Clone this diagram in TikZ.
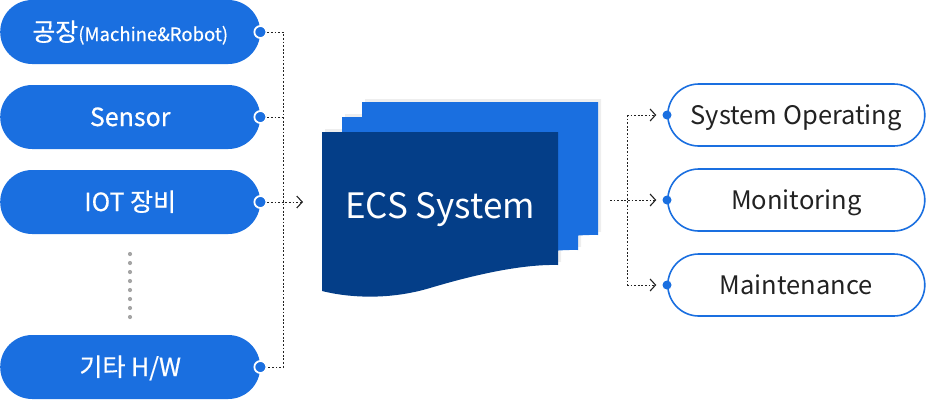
\documentclass[tikz,border=0pt]{standalone}
\usepackage{fontspec}
\setmainfont{Noto Sans CJK KR}
\newfontfamily\krmed{Noto Sans CJK KR}[FakeBold=0.5]
\usetikzlibrary{arrows.meta}
\definecolor{pblue}{HTML}{1A6FE0}
\definecolor{dblue}{HTML}{043E88}
\definecolor{txt}{HTML}{222222}
\definecolor{shadowg}{HTML}{EEEEEE}
\definecolor{dotg}{HTML}{A5A5A5}
\begin{document}
\begin{tikzpicture}[x=1pt,y=-1pt,
  lpill/.style={rectangle, rounded corners=32pt, fill=pblue, minimum width=260pt,
    minimum height=64pt, inner sep=0pt, text=white, anchor=west,
    font=\krmed\fontsize{25}{27}\selectfont, text height=18pt, text depth=0pt},
  rpill/.style={rectangle, rounded corners=31pt, draw=pblue, line width=1.6pt, fill=white,
    minimum width=257pt, minimum height=62pt, inner sep=0pt, text=txt, anchor=west,
    font=\fontsize{25.5}{28}\selectfont, text height=18.6pt, text depth=0pt},
  ldot/.style={circle, fill=pblue, draw=white, line width=1.8pt, minimum size=12pt, inner sep=0pt},
  rdot/.style={circle, fill=pblue, minimum size=9pt, inner sep=0pt},
  conn/.style={draw=txt, line width=0.9pt, dash pattern=on 1.8pt off 1.8pt},
  arr/.style={conn, -{Straight Barb[length=5.5pt,width=12pt,line width=1.1pt]}}
]
\useasboundingbox (0,0) rectangle (926,400);

% left pills
\node[lpill] (l1) at (0,32) {공장{\fontsize{18.5}{20}\selectfont(Machine\&Robot)}};
\node[lpill] (l2) at (0,117) {Sensor};
\node[lpill] (l3) at (0,202) {IOT 장비};
\node[lpill] (l4) at (0,367) {기타 H/W};
\node[ldot] (d1) at (l1.east) {};
\node[ldot] (d2) at (l2.east) {};
\node[ldot] (d3) at (l3.east) {};
\node[ldot] (d4) at (l4.east) {};

% vertical gray dots
\foreach \yy in {254,263,...,317} \fill[dotg] (130,\yy) circle (2.1pt);

% shadows of pages
\begin{scope}[shift={(3,-3)}]
\foreach \dx/\dy in {40/-30,20/-15,0/0}
  \fill[shadowg,shift={(\dx,\dy)}] (322,132) -- (558,132) -- (558,265)
    .. controls (520,264) and (470,276) .. (430,288)
    .. controls (390,300) and (350,298) .. (322,291) -- cycle;
\end{scope}
% pages
\fill[pblue,shift={(40,-30)}] (322,132) -- (558,132) -- (558,265)
    .. controls (520,264) and (470,276) .. (430,288)
    .. controls (390,300) and (350,298) .. (322,291) -- cycle;
\fill[pblue,shift={(20,-15)}] (322,132) -- (558,132) -- (558,265)
    .. controls (520,264) and (470,276) .. (430,288)
    .. controls (390,300) and (350,298) .. (322,291) -- cycle;
\fill[dblue] (322,132) -- (558,132) -- (558,265)
    .. controls (520,264) and (470,276) .. (430,288)
    .. controls (390,300) and (350,298) .. (322,291) -- cycle;
\node[text=white, font=\fontsize{35}{37}\selectfont, anchor=base] (ecs) at (440,218) {ECS System};

% right pills
\node[rpill] (r1) at (667,115) {System Operating};
\node[rpill] (r2) at (667,200) {Monitoring};
\node[rpill] (r3) at (667,285) {Maintenance};
\node[rdot] (rd1) at (r1.west) {};
\node[rdot] (rd2) at (r2.west) {};
\node[rdot] (rd3) at (r3.west) {};

% left connectors
\coordinate (lb1) at (283,32);
\coordinate (lb4) at (283,367);
\coordinate (ain) at (303,202);
\draw[conn] (d1.east) -- (lb1) -- (lb4) -- (d4.east);
\draw[conn] (d2.east) -- (d2.east -| lb1);
\draw[arr] (d3.east) -- (ain);

% right connectors
\coordinate (aout) at (610,200);
\coordinate (rb1) at (627,115);
\coordinate (rb3) at (627,285);
\draw[conn] (rb1) -- (rb3);
\draw[arr, shorten >=6pt] (rb1) -- (rd1);
\draw[arr, shorten >=6pt] (aout) -- (rd2);
\draw[arr, shorten >=6pt] (rb3) -- (rd3);
\end{tikzpicture}
\end{document}
